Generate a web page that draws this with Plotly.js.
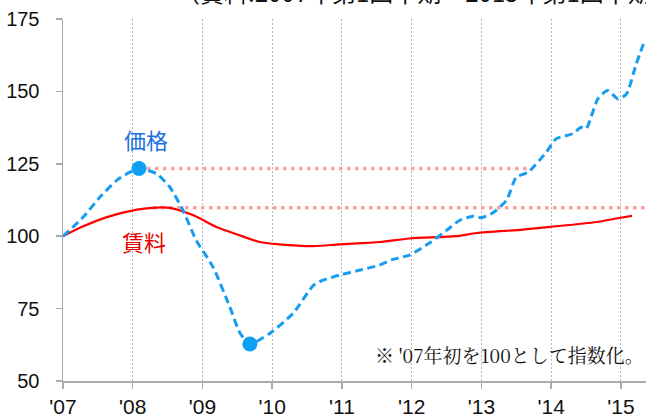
<!DOCTYPE html>
<html>
<head>
<meta charset="utf-8">
<script src="https://cdn.plot.ly/plotly-3.0.1.min.js"></script>
<style>html,body{margin:0;padding:0;background:#fff;}#chart{width:646px;height:418px;}</style>
</head>
<body>
<div id="chart"></div>
<script>
// Price index (dashed blue)
const priceX = [2007.0, 2007.29, 2007.53, 2007.77, 2007.96, 2008.09, 2008.34, 2008.53, 2008.72, 2008.91,
  2009.15, 2009.39, 2009.54, 2009.68, 2009.97, 2010.3, 2010.59, 2010.73, 2010.97, 2011.26, 2011.54,
  2011.73, 2011.97, 2012.26, 2012.5, 2012.69, 2012.88, 2013.0, 2013.16, 2013.36, 2013.5, 2013.67,
  2013.93, 2014.07, 2014.31, 2014.43, 2014.5, 2014.67, 2014.81, 2014.96, 2015.08, 2015.22, 2015.34];
const priceY = [100, 106.6, 113.5, 119.3, 122.1, 123.4, 121.6, 117, 109, 98.6,
  89.4, 75.7, 66.5, 62.8, 66.5, 73.4, 83, 84.8, 86.6, 88.3, 90,
  92, 93.5, 97.7, 102, 105.5, 106.9, 106.4, 108, 112.4, 120.4, 122.1,
  129, 133.6, 135.4, 137.6, 137.1, 147.4, 150.3, 147.4, 149.1, 159.5, 167.5];
// Rent index (solid red)
const rentX = [2007.0, 2007.29, 2007.63, 2008.06, 2008.34, 2008.53, 2008.87, 2009.2, 2009.5, 2009.82,
  2010.1, 2010.59, 2010.97, 2011.54, 2011.97, 2012.64, 2012.93, 2013.6, 2013.98, 2014.65, 2014.93, 2015.16];
const rentY = [100, 103.4, 106.6, 109.2, 109.9, 109.8, 107.2, 103.2, 100.6, 98,
  97.2, 96.6, 97.2, 98, 99.2, 100, 101.1, 102.3, 103.2, 104.9, 106.1, 107];
// Highlighted extremes
const extremeX = [2008.09, 2009.68];
const extremeY = [123.4, 62.8];
// Reference dotted levels
const peakLineX = [2008.09, 2013.69];
const peakLineY = [123.4, 123.4];
const rentPeakLineX = [2008.29, 2015.36];
const rentPeakLineY = [109.8, 109.8];
// Axis ticks
const yearTicks = [2007, 2008, 2009, 2010, 2011, 2012, 2013, 2014, 2015];
const yearLabels = ["'07", "'08", "'09", "'10", "'11", "'12", "'13", "'14", "'15"];
const yTicks = [50, 75, 100, 125, 150, 175];

const traces = [
  {x: peakLineX, y: peakLineY, mode: 'lines', line: {color: '#ffa0a0', width: 3.5, dash: '3.5px,4.5px'}, hoverinfo: 'skip'},
  {x: rentPeakLineX, y: rentPeakLineY, mode: 'lines', line: {color: '#ffa0a0', width: 3.5, dash: '3.5px,4.5px'}, hoverinfo: 'skip'},
  {x: rentX, y: rentY, mode: 'lines', line: {color: '#ff0000', width: 2.2, shape: 'spline', smoothing: 0.8}},
  {x: priceX, y: priceY, mode: 'lines', line: {color: '#169cf0', width: 3, dash: '8px,4.5px', shape: 'spline', smoothing: 0.6}},
  {x: extremeX, y: extremeY, mode: 'markers', marker: {color: '#0f9ff5', size: 15}}
];

const layout = {
  width: 646, height: 418,
  margin: {l: 63, r: 0, t: 19, b: 37, pad: 0},
  paper_bgcolor: '#fff', plot_bgcolor: '#fff',
  showlegend: false,
  font: {family: 'Liberation Sans, Arial, sans-serif', size: 20, color: '#111'},
  xaxis: {
    range: [2007, 2015.36], tickvals: yearTicks, ticktext: yearLabels,
    showline: true, linecolor: '#aaaaaa', linewidth: 1.5,
    ticks: 'outside', ticklen: 6, tickcolor: '#aaaaaa', tickwidth: 1.5,
    showgrid: true, gridcolor: '#b5b5b5', gridwidth: 1, griddash: '2px,2px',
    zeroline: false, tickfont: {size: 21, family: 'Liberation Sans, Arial, sans-serif', color: '#111'},
    fixedrange: true
  },
  yaxis: {
    range: [50, 175], tickvals: yTicks,
    showline: true, linecolor: '#aaaaaa', linewidth: 1.5,
    ticks: 'outside', ticklen: 6, tickcolor: '#aaaaaa', tickwidth: 1.5,
    showgrid: false, zeroline: false, ticklabelstandoff: 12,
    tickfont: {size: 20, family: 'Liberation Sans, Arial, sans-serif', color: '#111'},
    fixedrange: true
  },
  annotations: [
    {text: '（賃料:2007年第1四半期～2015年第1四半期', xref: 'paper', yref: 'paper', x: 0.19, y: 1.075,
     xanchor: 'left', yanchor: 'middle', showarrow: false,
     font: {family: 'Noto Sans CJK JP, sans-serif', size: 24, color: '#111'}},
    {text: '価格', xref: 'x', yref: 'y', x: 2008.19, y: 133.5, xanchor: 'center', yanchor: 'middle', showarrow: false,
     font: {family: 'Noto Sans CJK JP, sans-serif', size: 22, color: '#1a6fe0'}},
    {text: '賃料', xref: 'x', yref: 'y', x: 2008.16, y: 98.5, xanchor: 'center', yanchor: 'middle', showarrow: false,
     font: {family: 'Noto Sans CJK JP, sans-serif', size: 22, color: '#e60000'}},
    {text: "※ '07年初を100として指数化。", xref: 'paper', yref: 'y', x: 1.0, y: 59.3, xanchor: 'right', yanchor: 'middle', showarrow: false,
     font: {family: 'Noto Serif CJK JP, Noto Sans CJK JP, serif', size: 19, color: '#111'}}
  ]
};

Plotly.newPlot('chart', traces, layout, {staticPlot: true, displayModeBar: false});
</script>
</body>
</html>
